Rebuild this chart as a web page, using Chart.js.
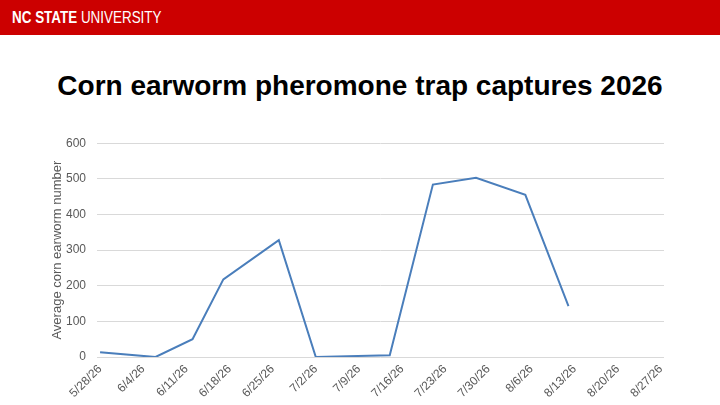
<!DOCTYPE html>
<html>
<head>
<meta charset="utf-8">
<script src="https://cdn.jsdelivr.net/npm/chart.js@4"></script>
<style>
  html, body { margin: 0; padding: 0; background: #fff; }
  body { width: 720px; height: 405px; position: relative; overflow: hidden; font-family: 'Liberation Sans', Arial, sans-serif; }
  #bar { position: absolute; left: 0; top: 0; width: 720px; height: 35px; background: #cc0000; }
  #brand { position: absolute; left: 12px; top: 8px; color: #fff; font-size: 17px; white-space: nowrap; transform: scaleX(0.79); transform-origin: left top; }
  #brand b { font-weight: bold; }
  #title { position: absolute; left: 0; top: 70px; width: 720px; text-align: center; font-size: 28px; font-weight: bold; color: #000; }
  #wrap { position: absolute; left: 0; top: 125px; width: 720px; height: 280px; }
</style>
</head>
<body>
<div id="bar"><div id="brand"><b>NC STATE</b> UNIVERSITY</div></div>
<div id="title">Corn earworm pheromone trap captures 2026</div>
<div id="wrap"><canvas id="chart"></canvas></div>
<script>
// sample dates and average captures
const sampleDates = ['5/28/26','6/6/26','6/12/26','6/17/26','6/26/26','7/2/26','7/14/26','7/21/26','7/28/26','8/5/26','8/12/26'];
const captures = [13, 0, 50, 218, 328, 0, 5, 484, 503, 455, 143];

// axis labels
const tickLabels = ['5/28/26','6/4/26','6/11/26','6/18/26','6/25/26','7/2/26','7/9/26','7/16/26','7/23/26','7/30/26','8/6/26','8/13/26','8/20/26','8/27/26'];
const yTicks = [0, 100, 200, 300, 400, 500, 600];

const yTitle = 'Average corn earworm number';

function dayOf(s) {
  const [m, d, y] = s.split('/').map(Number);
  return Math.round((Date.UTC(2000 + y, m - 1, d) - Date.UTC(2026, 4, 28)) / 86400000);
}
const tickDays = tickLabels.map(dayOf);
const labelByDay = {};
tickDays.forEach((d, i) => labelByDay[d] = tickLabels[i]);

const points = sampleDates.map((s, i) => ({ x: dayOf(s), y: captures[i] }));

Chart.defaults.font.family = "'Liberation Sans', Arial, sans-serif";
Chart.defaults.color = '#595959';

new Chart(document.getElementById('chart').getContext('2d'), {
  type: 'line',
  data: {
    datasets: [{
      data: points,
      borderColor: '#4a7ebb',
      borderWidth: 2,
      pointRadius: 0,
      tension: 0,
      fill: false
    }]
  },
  options: {
    responsive: true,
    maintainAspectRatio: false,
    animation: false,
    layout: { padding: { left: 50, right: 56, top: 15, bottom: 0 } },
    plugins: { legend: { display: false }, tooltip: { enabled: false } },
    scales: {
      x: {
        type: 'linear',
        min: tickDays[0] - 0.5,
        max: tickDays[tickDays.length - 1] + 0.5,
        afterBuildTicks: s => { s.ticks = tickDays.map(v => ({ value: v })); },
        afterFit: s => { s.height = 48; },
        grid: { display: false, drawTicks: false },
        border: { display: false },
        ticks: {
          autoSkip: false,
          minRotation: 45,
          maxRotation: 45,
          padding: 5,
          font: { size: 12 },
          callback: v => labelByDay[v] || ''
        }
      },
      y: {
        min: 0,
        max: 600,
        afterBuildTicks: s => { s.ticks = yTicks.map(v => ({ value: v })); },
        afterFit: s => { s.width = 47; },
        grid: { color: '#d9d9d9', lineWidth: 1, drawTicks: false },
        border: { display: false },
        ticks: { padding: 11, font: { size: 12 } },
        title: { display: true, text: yTitle, font: { size: 13 }, color: '#595959', padding: 0 }
      }
    }
  }
});
</script>
</body>
</html>
